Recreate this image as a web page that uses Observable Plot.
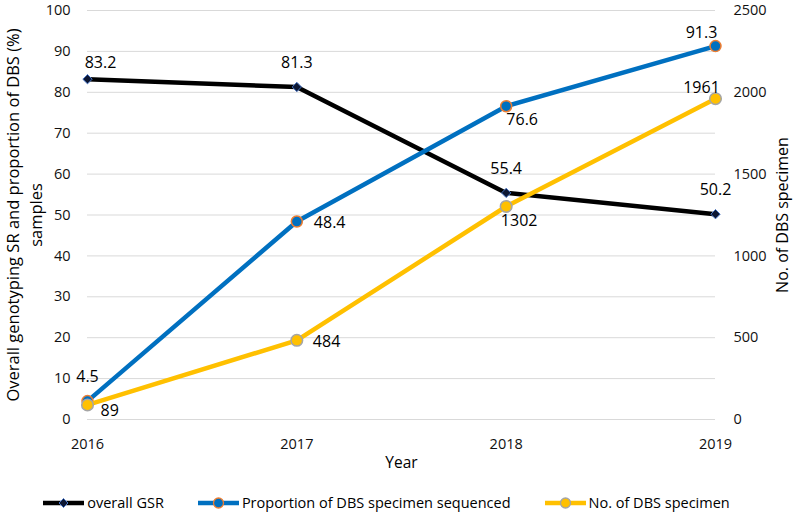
<!DOCTYPE html>
<html><head><meta charset="utf-8">
<script src="https://cdn.jsdelivr.net/npm/d3@7"></script>
<script src="https://cdn.jsdelivr.net/npm/@observablehq/plot@0.6"></script>
<style>
body{margin:0;background:#fff;font-family:"Open Sans",sans-serif;width:795px;}
#legend{display:flex;justify-content:center;align-items:center;height:32px;box-sizing:border-box;padding-top:13px;padding-right:22px;font-size:14.5px;color:#000;}
.item{display:flex;align-items:center;margin:0 17px;white-space:nowrap;}
.item svg{margin-right:3px;}
</style></head><body><div id="chart"></div><div id="legend"></div><script>
const years = [2016, 2017, 2018, 2019];
const gsr = [83.2, 81.3, 55.4, 50.2];
const proportion = [4.5, 48.4, 76.6, 91.3];
const specimens = [89, 484, 1302, 1961];
const leftTicks = [0, 10, 20, 30, 40, 50, 60, 70, 80, 90, 100];
const rightTicks = [0, 500, 1000, 1500, 2000, 2500];
const seriesNames = ["overall GSR", "Proportion of DBS specimen sequenced", "No. of DBS specimen"];
const leftTitle1 = "Overall genotyping SR and proportion of DBS (%)";
const leftTitle2 = "samples";
const rightTitle = "No. of DBS specimen";
const xTitle = "Year";

const RATIO = 2500 / 100;
const gsrRows = years.map((year, i) => ({year, value: gsr[i], label: String(gsr[i])}));
const propRows = years.map((year, i) => ({year, value: proportion[i], label: String(proportion[i])}));
const specRows = years.map((year, i) => ({year, value: specimens[i] / RATIO, label: String(specimens[i])}));

const C = {gsr: "#000000", prop: "#0070c0", spec: "#ffc000"};
const lab = (rows, yrs, dx, dy, anchor = "middle") =>
  Plot.text(rows.filter(d => yrs.includes(d.year)), {x: "year", y: "value", text: "label", dx, dy, textAnchor: anchor, fontSize: 16, fill: "#000"});

const chart = Plot.plot({
  width: 795, height: 480,
  marginLeft: 87, marginRight: 80, marginTop: 10, marginBottom: 61,
  style: {fontFamily: "Open Sans", fontSize: "14.5px", color: "#111", background: "#fff"},
  x: {domain: [2016, 2019]},
  y: {domain: [0, 100]},
  marks: [
    Plot.ruleY(leftTicks, {stroke: "#d9d9d9", strokeWidth: 1}),
    Plot.axisY(leftTicks, {anchor: "left", tickSize: 0, tickPadding: 17, label: null, fontSize: 14.5}),
    Plot.axisY(rightTicks.map(d => d / RATIO), {anchor: "right", tickSize: 0, tickPadding: 18, label: null, tickFormat: d => String(Math.round(d * RATIO)), fontSize: 14.5}),
    Plot.axisX(years, {tickSize: 0, tickPadding: 19, tickFormat: d => String(d), label: null, fontSize: 14.5}),
    Plot.text([leftTitle1], {frameAnchor: "left", textAnchor: "middle", rotate: -90, dx: -74, fontSize: 16.5, fill: "#000"}),
    Plot.text([leftTitle2], {frameAnchor: "left", textAnchor: "middle", rotate: -90, dx: -51, fontSize: 16.5, fill: "#000"}),
    Plot.text([rightTitle], {frameAnchor: "right", textAnchor: "middle", rotate: -90, dx: 67, fontSize: 16, fill: "#000"}),
    Plot.text([xTitle], {frameAnchor: "bottom", dy: 48, fontSize: 15.5, fill: "#000"}),
    Plot.line(gsrRows, {x: "year", y: "value", stroke: C.gsr, strokeWidth: 4.5}),
    Plot.dot(gsrRows, {x: "year", y: "value", symbol: "diamond2", r: 4.2, fill: "#0d1733", stroke: "#4472c4", strokeWidth: 1}),
    Plot.line(propRows, {x: "year", y: "value", stroke: C.prop, strokeWidth: 4.5}),
    Plot.dot(propRows, {x: "year", y: "value", r: 5.5, fill: "#0070c0", stroke: "#ed7d31", strokeWidth: 1.5}),
    Plot.line(specRows, {x: "year", y: "value", stroke: C.spec, strokeWidth: 4.5}),
    Plot.dot(specRows, {x: "year", y: "value", r: 5.8, fill: "#ffc000", stroke: "#a5a5a5", strokeWidth: 1.5}),
    lab(gsrRows, [2016], 13, -16),
    lab(gsrRows, [2017, 2018, 2019], 0, -24),
    lab(propRows, [2016], 0, -24),
    lab(propRows, [2017], 17, 1, "start"),
    lab(propRows, [2018], 16, 14),
    lab(propRows, [2019], -14, -13),
    lab(specRows, [2016], 13, 6, "start"),
    lab(specRows, [2017], 16, 2, "start"),
    lab(specRows, [2018], 13, 14),
    lab(specRows, [2019], -14, -11)
  ]
});
document.getElementById("chart").appendChild(chart);

const legendSpecs = [
  {name: seriesNames[0], color: C.gsr, marker: "diamond"},
  {name: seriesNames[1], color: C.prop, marker: "circle", mfill: "#0070c0", mstroke: "#ed7d31"},
  {name: seriesNames[2], color: C.spec, marker: "circle", mfill: "#ffc000", mstroke: "#a5a5a5"}
];
const legend = d3.select("#legend");
legendSpecs.forEach(s => {
  const item = legend.append("div").attr("class", "item");
  const svg = item.append("svg").attr("width", 41).attr("height", 14);
  svg.append("line").attr("x1", 0).attr("x2", 41).attr("y1", 7).attr("y2", 7).attr("stroke", s.color).attr("stroke-width", 4.5);
  if (s.marker === "diamond") {
    svg.append("path").attr("d", "M20.5,2.5L25,7L20.5,11.5L16,7Z").attr("fill", "#0d1733").attr("stroke", "#4472c4").attr("stroke-width", 1);
  } else {
    svg.append("circle").attr("cx", 20.5).attr("cy", 7).attr("r", 5).attr("fill", s.mfill).attr("stroke", s.mstroke).attr("stroke-width", 1.3);
  }
  item.append("span").text(s.name);
});
</script></body></html>
